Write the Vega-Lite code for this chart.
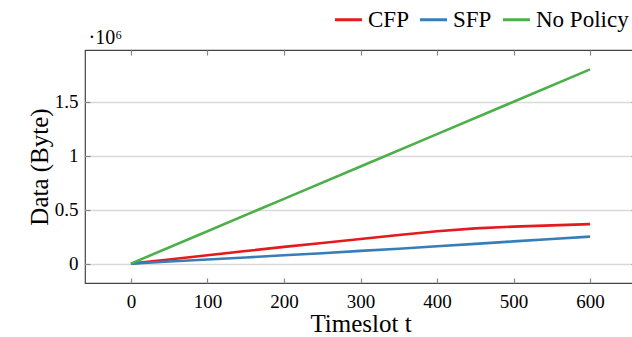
{
  "$schema": "https://vega.github.io/schema/vega-lite/v6.json",
  "autosize": {"type": "none"},
  "padding": {"left": 85, "top": 50, "right": 0, "bottom": 54},
  "width": 551,
  "height": 233,
  "background": "white",
  "config": {
    "view": {"stroke": "#444444", "strokeWidth": 1.2},
    "axis": {"labelFont": "Liberation Serif", "titleFont": "Liberation Serif", "labelFontSize": 19, "labelColor": "black", "titleColor": "black", "titleFontWeight": "normal", "domain": false, "tickColor": "#888888", "tickWidth": 1.2},
    "legend": {"labelFont": "Liberation Serif"}
  },
  "data": {"values": [
    {"t": 0, "v": 0, "s": "CFP"},
    {"t": 50, "v": 38000, "s": "CFP"},
    {"t": 100, "v": 77000, "s": "CFP"},
    {"t": 150, "v": 116000, "s": "CFP"},
    {"t": 200, "v": 155000, "s": "CFP"},
    {"t": 250, "v": 191000, "s": "CFP"},
    {"t": 300, "v": 228000, "s": "CFP"},
    {"t": 350, "v": 265000, "s": "CFP"},
    {"t": 400, "v": 300000, "s": "CFP"},
    {"t": 450, "v": 326000, "s": "CFP"},
    {"t": 500, "v": 343000, "s": "CFP"},
    {"t": 550, "v": 354000, "s": "CFP"},
    {"t": 600, "v": 366000, "s": "CFP"},
    {"t": 0, "v": 0, "s": "SFP"},
    {"t": 50, "v": 19000, "s": "SFP"},
    {"t": 100, "v": 38000, "s": "SFP"},
    {"t": 150, "v": 57000, "s": "SFP"},
    {"t": 200, "v": 77000, "s": "SFP"},
    {"t": 250, "v": 96000, "s": "SFP"},
    {"t": 300, "v": 118000, "s": "SFP"},
    {"t": 350, "v": 137000, "s": "SFP"},
    {"t": 400, "v": 160000, "s": "SFP"},
    {"t": 450, "v": 183000, "s": "SFP"},
    {"t": 500, "v": 206000, "s": "SFP"},
    {"t": 550, "v": 228000, "s": "SFP"},
    {"t": 600, "v": 250000, "s": "SFP"},
    {"t": 0, "v": 0, "s": "No Policy"},
    {"t": 100, "v": 300000, "s": "No Policy"},
    {"t": 200, "v": 600000, "s": "No Policy"},
    {"t": 300, "v": 900000, "s": "No Policy"},
    {"t": 400, "v": 1200000, "s": "No Policy"},
    {"t": 500, "v": 1500000, "s": "No Policy"},
    {"t": 600, "v": 1800000, "s": "No Policy"}
  ]},
  "layer": [
    {
      "mark": {"type": "line", "strokeWidth": 2.6},
      "encoding": {
        "x": {"field": "t", "type": "quantitative", "scale": {"domain": [-60, 660], "nice": false, "zero": false},
          "axis": {"values": [0, 100, 200, 300, 400, 500, 600], "grid": false, "tickSize": -5, "labelPadding": 14, "labelFontSize": 19, "title": "Timeslot t", "titleFontSize": 25, "titlePadding": 0}},
        "y": {"field": "v", "type": "quantitative", "scale": {"domain": [-180000, 1980000], "nice": false, "zero": false},
          "axis": {"values": [0, 500000, 1000000, 1500000], "labelExpr": "'' + (datum.value / 1000000)", "grid": true, "gridColor": "#d9d9d9", "gridWidth": 1.3, "tickSize": -5, "labelPadding": 12, "labelFontSize": 19, "title": "Data (Byte)", "titleFontSize": 25, "titlePadding": 2}},
        "color": {"field": "s", "type": "nominal", "sort": ["CFP", "SFP", "No Policy"],
          "scale": {"domain": ["CFP", "SFP", "No Policy"], "range": ["#e41a1c", "#377eb8", "#4daf4a"]},
          "legend": {"title": null, "orient": "none", "direction": "horizontal", "legendX": 248, "legendY": -46, "symbolType": "stroke", "symbolSize": 730, "symbolStrokeWidth": 3, "labelFontSize": 23, "labelOffset": 4, "columnPadding": 4, "labelColor": "black"}}
      }
    },
    {
      "mark": {"type": "line", "strokeOpacity": 0},
      "encoding": {
        "x": {"field": "t", "type": "quantitative", "scale": {"domain": [-60, 660], "nice": false, "zero": false},
          "axis": {"orient": "top", "values": [0, 100, 200, 300, 400, 500, 600], "grid": false, "labels": false, "ticks": true, "tickSize": -5, "zindex": 1, "title": "·10⁶", "titleFontSize": 20, "titleAnchor": "start", "titleAlign": "left", "titleX": 3, "titleY": -7, "titleBaseline": "alphabetic"}},
        "y": {"field": "v", "type": "quantitative", "scale": {"domain": [-180000, 1980000], "nice": false, "zero": false},
          "axis": {"orient": "right", "values": [0, 500000, 1000000, 1500000], "grid": false, "labels": false, "ticks": true, "tickSize": -5, "zindex": 1, "title": null}},
        "detail": {"field": "s"}
      }
    }
  ],
  "resolve": {"scale": {"x": "independent", "y": "independent"}, "axis": {"x": "independent", "y": "independent"}}
}
